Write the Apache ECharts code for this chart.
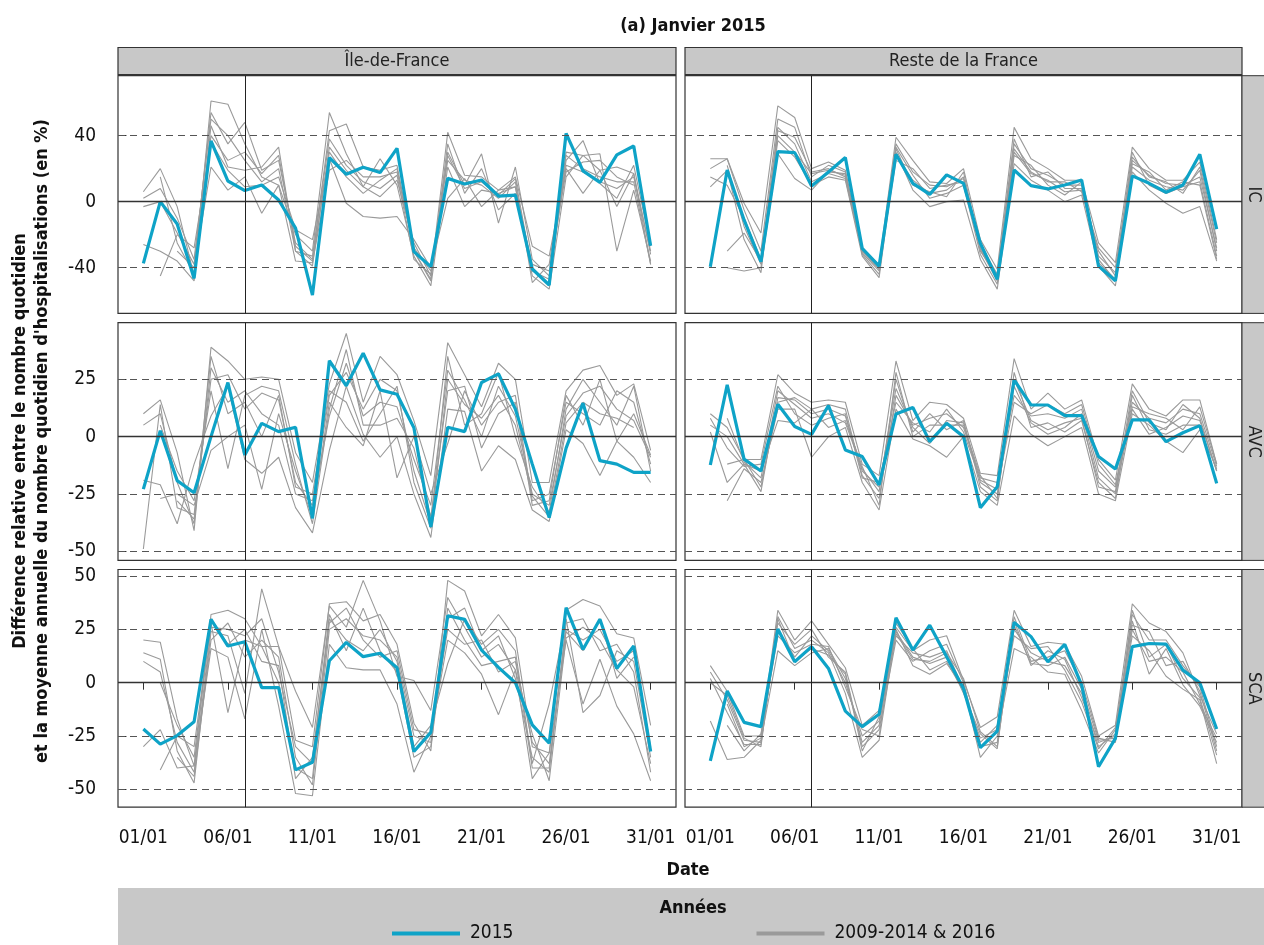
<!DOCTYPE html>
<html><head><meta charset="utf-8">
<script src="https://cdn.jsdelivr.net/npm/echarts@6/dist/echarts.min.js"></script>
<style>html,body{margin:0;padding:0;background:#fff}#c{width:1264px;height:945px}</style>
</head><body><div id="c"></div>
<script>
// ---------------- DATA ----------------
const days = [1,2,3,4,5,6,7,8,9,10,11,12,13,14,15,16,17,18,19,20,21,22,23,24,25,26,27,28,29,30,31];
const xTickDays = [1,6,11,16,21,26,31];
const xTickLabels = ['01/01','06/01','11/01','16/01','21/01','26/01','31/01'];
const eventDay = 7;
const regions = ['Île-de-France','Reste de la France'];
const pathologies = ['IC','AVC','SCA'];
const yTicksIC = [-40,0,40];
const yTicksAVC = [-50,-25,0,25];
const yTicksSCA = [-50,-25,0,25,50];
const yRangeIC = [-67.7, 76.3];
const yRangeAVC = [-54, 49.7];
const yRangeSCA = [-58.4, 53.1];
const seriesBlueName = '2015';
const seriesGrayName = '2009-2014 & 2016';

const blue_IC_IDF = [-37.4,0,-13.5,-46.5,36.8,12.5,6.7,10.1,1,-16,-56.6,26.7,16.6,20.8,17.6,32.3,-30.3,-39.4,14.1,10.7,13.1,3.4,4,-40.8,-50.5,41.4,18.6,11.7,28.3,33.7,-26.7];
const blue_IC_RDF = [-39.4,19.2,-11.1,-36.4,30.3,29.7,9.5,18,26.7,-28.3,-39,28.7,11.1,4.4,16.2,11.1,-25.3,-47,19.2,9.7,7.7,10.1,13.1,-39,-47.9,15.6,11.1,5.7,10.1,28.7,-16.6];
const blue_AVC_IDF = [-22.9,2.6,-19.2,-24.5,0,23.6,-8,5.8,2.2,4.1,-35.7,33.1,22.2,36.4,20.4,18.5,3.9,-39.4,4.1,2.2,23.6,27.4,12,-12,-35.3,-5,14.6,-10.5,-12,-15.6,-15.6];
const blue_AVC_RDF = [-12.4,22.6,-9.8,-15,14.1,4.4,1,13.6,-5.8,-8.7,-21.1,9.9,12.7,-2.2,5.8,0,-31,-21.9,24.8,13.8,13.8,9.2,9.2,-8.7,-14.1,7.3,7.3,-2.2,1.7,4.8,-20.4];
const blue_SCA_IDF = [-21.7,-28.8,-24.8,-18.3,29.7,17.2,19.2,-2.3,-2.3,-40.9,-37.3,10.3,18.9,12.2,13.8,7,-32.3,-23.3,31.4,29.7,15.3,7.2,0,-19.8,-28.4,35.2,15.6,29.8,6.7,17.2,-32.3];
const blue_SCA_RDF = [-36.7,-3.9,-18.6,-20.6,25.2,9.8,16.9,6.7,-13.3,-20.6,-14.8,30.5,15.3,27,12.2,-2.7,-30.5,-22.7,28.3,21.6,9.8,18,-1.1,-39.4,-26.1,16.9,18.4,18.1,5.9,0,-21.7];

const gray_IC_IDF = [
 [6,20,-3,-45,61,59,35,15,10,-20,-30,54,29,9,3,13,-25,-45,42,16,15,7,9,-40,-50,30,28,19,21,17,-38],
 [-3,0,-19,-38,54,35,48,19,25,-25,-35,43,47,21,19,22,-30,-48,30,10,29,-13,21,-35,-45,25,37,11,2,22,-27],
 [-26,-30,-36,-48,46,21,19,21,33,-30,-39,33,19,9,26,10,-33,-51,21,-3,7,5,9,-45,-53,15,28,29,-30,7,-36],
 [null,-45,-20,-28,36,19,9,10,15,-17,-23,26,-1,-9,-10,-9,-23,-40,2,14,-3,7,15,-27,-33,20,5,19,-3,17,-32],
 [null,null,-30,-40,21,7,15,-7,10,-36,-37,19,25,15,15,18,-28,-42,25,13,10,2,12,-49,-38,28,20,15,12,12,-38],
 [2,8,-10,-35,50,40,25,12,20,-30,-33,38,22,12,8,16,-35,-44,28,8,12,4,14,-42,-47,22,18,12,8,15,-30],
 [null,15,-25,-44,40,25,30,17,28,-27,-36,30,15,5,13,20,-30,-47,35,5,20,-5,5,-38,-42,18,24,25,15,10,null]
];
const gray_IC_RDF = [
 [26,26,-1,-19,58,51,20,24,19,-29,-38,39,25,12,11,20,-23,-41,45,26,20,13,13,-25,-37,33,20,13,13,24,-23],
 [9,19,-23,-43,43,39,18,20,15,-31,-42,28,13,5,7,15,-28,-47,30,17,13,6,7,-30,-45,21,13,9,7,19,-30],
 [null,-30,-19,-36,37,27,10,15,13,-33,-46,30,7,-3,0,1,-35,-53,23,13,7,0,4,-39,-51,18,7,-1,-7,-3,-36],
 [null,-40,-42,-40,29,14,7,18,17,-30,-40,25,20,8,10,12,-30,-45,35,20,16,10,10,-35,-48,25,16,11,10,15,-28],
 [20,26,-5,-30,50,45,15,22,18,-32,-44,33,16,2,5,10,-32,-50,28,22,10,4,12,-33,-43,30,10,5,9,12,-33],
 [15,10,-10,-35,45,35,12,17,14,-30,-41,35,18,10,9,14,-26,-44,38,15,18,8,8,-37,-47,27,15,12,5,21,-25],
 [null,22,-15,-38,40,30,17,19,16,-28,-39,32,10,6,3,18,-29,-48,32,18,12,12,6,-28,-40,23,18,7,12,10,-35]
];
const gray_AVC_IDF = [
 [10,16,-7,-41,39,33,25,26,25,-7,-20,23,45,15,35,27,7,-17,41,27,13,32,25,-20,-20,20,29,31,18,23,-6],
 [-49,14,-31,-34,25,27,12,19,16,-20,-30,9,32,9,15,13,-10,-30,29,16,0,22,9,-25,-30,9,19,22,12,7,-9],
 [-19,-21,-38,-12,9,22,-10,-16,-9,-31,-42,-6,22,1,-9,0,-25,-44,12,11,-15,-4,-10,-32,-37,3,-3,-17,-2,-9,-20],
 [null,-27,-25,-30,-6,0,5,-23,10,-15,-35,15,4,-4,20,-18,0,-25,-3,20,5,15,18,-28,-25,15,10,5,20,15,-12],
 [5,10,-20,-38,30,15,20,10,5,-25,-28,18,28,12,25,20,-15,-38,35,5,10,28,0,-22,-33,12,25,15,5,22,-15],
 [null,5,-15,-28,20,-14,18,22,20,-12,-38,12,38,5,5,8,-5,-35,20,22,-5,10,15,-30,-28,18,5,25,-2,10,-8],
 [null,null,-28,-36,35,10,15,0,18,-22,-25,20,15,-2,10,22,-20,-40,25,14,8,18,5,-26,-35,6,15,10,8,4,null]
];
const gray_AVC_RDF = [
 [10,4,-10,-10,27,19,15,16,15,-12,-17,33,7,15,14,8,-16,-17,34,12,19,12,16,-10,-19,23,12,9,16,16,-12],
 [2,-20,-12,-24,17,16,10,12,9,-15,-22,21,4,-3,7,6,-20,-25,22,6,1,4,10,-18,-25,12,1,4,9,7,-15],
 [null,-28,-14,-20,12,12,-9,0,4,-20,-32,12,-1,-4,-9,0,-24,-30,9,1,-4,0,4,-25,-28,10,5,-2,-7,3,-14],
 [5,0,-12,-15,7,6,12,14,12,-17,-27,18,5,8,10,4,-18,-20,18,9,10,8,12,-15,-22,15,8,6,12,10,-13],
 [null,8,-11,-18,20,14,8,10,6,-14,-24,25,2,10,3,7,-22,-28,28,4,6,2,7,-20,-27,18,3,1,5,5,null],
 [8,-5,-13,-12,22,10,5,8,10,-18,-20,15,6,2,12,2,-19,-23,15,10,14,10,14,-12,-21,13,10,8,3,13,-12],
 [null,-12,-10,-22,15,17,12,4,7,-13,-30,28,0,5,5,5,-17,-27,25,7,3,6,8,-22,-24,20,6,3,14,8,-15]
];
const gray_SCA_IDF = [
 [20,19,-17,-39,32,34,30,17,17,-27,-30,37,38,29,32,18,-19,-32,48,43,22,32,21,-30,-33,34,39,36,23,21,-20],
 [14,11,-32,-47,24,22,-5,44,17,-4,-21,36,26,48,29,3,1,-13,40,26,12,18,6,-24,-46,21,26,20,6,-2,-38],
 [-30,-22,-40,-39,16,12,-17,25,-11,-52,-53,18,7,6,6,-10,-42,-25,20,14,4,-15,6,-45,-33,20,-10,11,-11,-24,-46],
 [null,-41,-25,-30,28,-14,20,17,0,-40,-45,30,20,15,25,10,-30,-20,9,30,18,25,15,-38,-10,30,-14,-6,15,10,-35],
 [null,null,-35,-44,20,28,12,20,12,-35,-48,25,30,22,20,12,-25,-28,35,20,8,10,12,-40,-40,25,20,25,10,15,-30],
 [10,5,-28,-42,26,25,22,30,5,-30,-38,32,15,35,15,5,-35,-30,30,35,15,22,2,-35,-42,28,30,15,18,5,-42],
 [null,0,-20,-35,30,18,25,10,8,-45,-35,28,35,20,12,15,-22,-24,25,18,20,5,10,-28,-38,24,15,30,2,12,null]
];
const gray_SCA_RDF = [
 [8,-4,-25,-25,34,20,29,18,7,-20,-13,26,15,20,22,1,-21,-16,34,17,19,18,3,-25,-20,37,28,24,14,-6,-24],
 [2,-14,-29,-29,31,16,20,14,-5,-35,-27,24,12,9,12,-5,-24,-31,29,8,15,11,-7,-28,-25,29,4,16,-1,-11,-28],
 [-18,-36,-35,-27,15,8,14,16,2,-28,-20,25,8,4,9,-2,-35,-25,16,12,5,4,-13,-33,-22,22,15,3,-3,-8,-38],
 [null,-10,-30,-26,25,12,22,15,0,-25,-18,22,14,12,15,-3,-28,-20,25,14,10,8,-5,-30,-24,32,20,20,8,-2,-30],
 [5,-8,-27,-28,28,18,25,12,5,-30,-22,20,10,15,18,0,-30,-28,31,10,12,15,0,-26,-28,25,10,12,5,-10,-26],
 [null,-20,-32,-24,22,14,18,17,-2,-22,-25,28,16,6,10,-4,-26,-22,22,16,17,6,-9,-31,-21,27,24,8,10,-4,-32],
 [0,-6,-26,-30,30,10,16,13,4,-32,-16,23,11,10,14,2,-23,-30,27,9,8,12,-3,-27,-26,34,12,18,2,-7,-34]
];

// ---------------- LAYOUT / STYLE ----------------
const FONT = "'Liberation Sans Narrow', 'DejaVu Sans Condensed', 'Roboto Condensed', sans-serif";
const BLUE = '#0ea3c7', GRAY = '#9a9a9a', STRIP = '#c8c8c8', DARK = '#333';
const colLeft = [118, 685], colWidth = [558, 557];
const rowTop = [75.7, 322.7, 569.5], rowHeight = 237.7;

const rows = [
  {ticks: yTicksIC, range: yRangeIC, blue: [blue_IC_IDF, blue_IC_RDF], gray: [gray_IC_IDF, gray_IC_RDF]},
  {ticks: yTicksAVC, range: yRangeAVC, blue: [blue_AVC_IDF, blue_AVC_RDF], gray: [gray_AVC_IDF, gray_AVC_RDF]},
  {ticks: yTicksSCA, range: yRangeSCA, blue: [blue_SCA_IDF, blue_SCA_RDF], gray: [gray_SCA_IDF, gray_SCA_RDF]}
];

const grid = [], xAxis = [], yAxis = [], series = [], graphic = [];
const pairs = arr => days.map((d, i) => [d, arr[i] == null ? null : arr[i]]);

rows.forEach((row, r) => {
  [0, 1].forEach(c => {
    const gi = grid.length;
    grid.push({left: colLeft[c], top: rowTop[r], width: colWidth[c], height: rowHeight,
      show: true, backgroundColor: '#fff', borderColor: DARK, borderWidth: 1.2, containLabel: false});
    const bottom = r === 2;
    xAxis.push({type: 'value', gridIndex: gi, min: -0.5, max: 32.5,
      axisLine: {show: false}, splitLine: {show: false},
      axisTick: {show: bottom, length: 7, customValues: xTickDays, lineStyle: {color: DARK}},
      axisLabel: {show: bottom, customValues: xTickDays, margin: 21, color: '#111', fontSize: 19, fontFamily: FONT,
        formatter: v => xTickLabels[xTickDays.indexOf(Math.round(v))] || ''}});
    const left = c === 0;
    yAxis.push({type: 'value', gridIndex: gi, min: row.range[0], max: row.range[1],
      axisLine: {show: false}, splitLine: {show: false},
      axisTick: {show: left, length: 7, customValues: row.ticks, lineStyle: {color: DARK}},
      axisLabel: {show: left, customValues: row.ticks, margin: 22, color: '#111', fontSize: 19, fontFamily: FONT}});
    const ml = row.ticks.map(t => ({yAxis: t, lineStyle: t === 0 ? {type: 'solid', color: '#333', width: 1.3} : {type: [7, 5], color: '#555', width: 1.2}}));
    ml.push({xAxis: eventDay, lineStyle: {type: 'solid', color: '#222', width: 1}});
    row.gray[c].forEach((g, k) => {
      const s = {name: seriesGrayName, type: 'line', xAxisIndex: gi, yAxisIndex: gi, data: pairs(g),
        symbol: 'none', lineStyle: {color: GRAY, width: 1.1}, itemStyle: {color: GRAY}, z: 2, silent: true, animation: false};
      if (k === 0) s.markLine = {symbol: ['none', 'none'], silent: true, animation: false, label: {show: false}, data: ml};
      series.push(s);
    });
    series.push({name: seriesBlueName, type: 'line', xAxisIndex: gi, yAxisIndex: gi, data: pairs(row.blue[c]),
      symbol: 'none', lineStyle: {color: BLUE, width: 3.2}, itemStyle: {color: BLUE}, z: 4, silent: true, animation: false});
  });
  graphic.push({type: 'rect', shape: {x: 1242, y: rowTop[r], width: 40, height: rowHeight}, style: {fill: STRIP, stroke: DARK, lineWidth: 1}, z: 10});
  graphic.push({type: 'text', x: 1254, y: rowTop[r] + rowHeight / 2, rotation: -Math.PI / 2,
    style: {text: pathologies[r], fill: '#222', font: `18px ${FONT}`, align: 'center', verticalAlign: 'middle'}, z: 11});
});

[0, 1].forEach(c => {
  graphic.push({type: 'rect', shape: {x: colLeft[c], y: 47.5, width: colWidth[c], height: 27}, style: {fill: STRIP, stroke: DARK, lineWidth: 1.2}, z: 10});
  graphic.push({type: 'text', x: colLeft[c] + colWidth[c] / 2, y: 61, style: {text: regions[c], fill: '#222', font: `18px ${FONT}`, align: 'center', verticalAlign: 'middle'}, z: 11});
});
graphic.push({type: 'text', x: 693, y: 26, style: {text: '(a) Janvier 2015', fill: '#111', font: `bold 18px ${FONT}`, align: 'center', verticalAlign: 'middle'}});
graphic.push({type: 'text', x: 20, y: 441, rotation: Math.PI / 2, style: {text: 'Différence relative entre le nombre quotidien', fill: '#111', font: `bold 18px ${FONT}`, align: 'center', verticalAlign: 'middle'}});
graphic.push({type: 'text', x: 42, y: 441, rotation: Math.PI / 2, style: {text: "et la moyenne annuelle du nombre quotidien d'hospitalisations (en %)", fill: '#111', font: `bold 18px ${FONT}`, align: 'center', verticalAlign: 'middle'}});
graphic.push({type: 'text', x: 688, y: 870, style: {text: 'Date', fill: '#111', font: `bold 18px ${FONT}`, align: 'center', verticalAlign: 'middle'}});
graphic.push({type: 'rect', shape: {x: 118, y: 888, width: 1146, height: 57}, style: {fill: STRIP}, z: -1});
graphic.push({type: 'text', x: 693, y: 908, style: {text: 'Années', fill: '#111', font: `bold 18px ${FONT}`, align: 'center', verticalAlign: 'middle'}});

const chart = echarts.init(document.getElementById('c'), null, {renderer: 'canvas'});
chart.setOption({
  animation: false,
  backgroundColor: '#fff',
  grid, xAxis, yAxis, series, graphic,
  legend: {data: [seriesBlueName, seriesGrayName], left: 387, top: 919, icon: 'rect', itemWidth: 68, itemHeight: 4,
    itemGap: 243, selectedMode: false,
    textStyle: {fontSize: 19, fontFamily: FONT, color: '#111', padding: [0, 0, 0, 5]}}
});
</script></body></html>
